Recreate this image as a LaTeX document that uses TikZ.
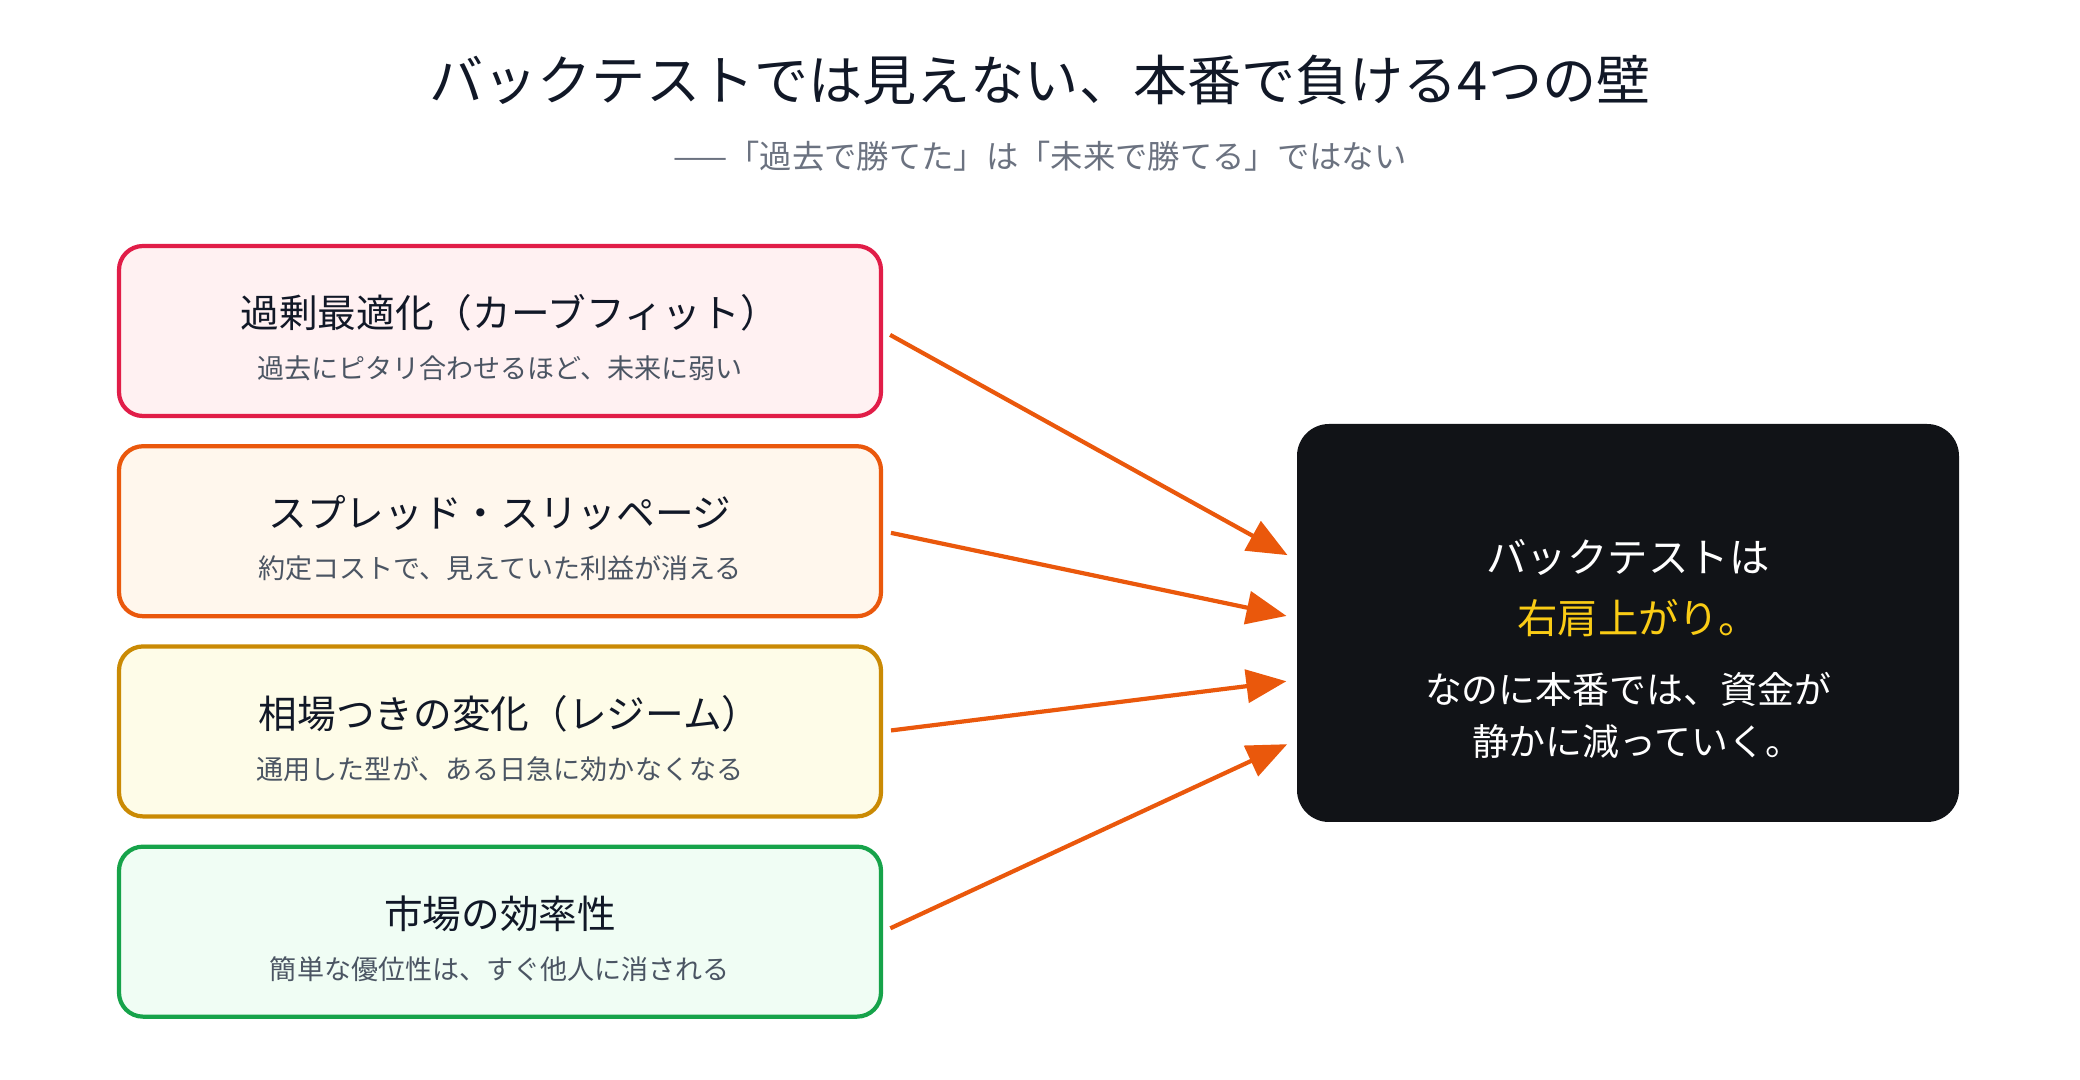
\documentclass[tikz,border=0pt]{standalone}
\usepackage{fontspec}
\setmainfont{Noto Sans CJK JP}
\usetikzlibrary{arrows.meta,positioning}

\definecolor{ink}{HTML}{111827}
\definecolor{subgray}{HTML}{4B5563}
\definecolor{leadgray}{HTML}{6B7280}
\definecolor{roseline}{HTML}{E11D48}
\definecolor{rosefill}{HTML}{FFF1F2}
\definecolor{orangeline}{HTML}{EA580C}
\definecolor{orangefill}{HTML}{FFF7ED}
\definecolor{amberline}{HTML}{CA8A04}
\definecolor{amberfill}{HTML}{FEFCE8}
\definecolor{greenline}{HTML}{16A34A}
\definecolor{greenfill}{HTML}{F0FDF4}
\definecolor{night}{HTML}{111317}
\definecolor{gold}{HTML}{FACC15}

\newcommand{\hd}{\fontsize{11}{13}\selectfont\color{ink}}
\newcommand{\sub}{\color{subgray}}

\begin{document}
\begin{tikzpicture}[
    node distance=0.26cm,
    every node/.style={font=\fontsize{7.7}{14.5}\selectfont, text=ink},
    wall/.style={draw, line width=1.2pt, rounded corners=0.24cm, align=center, minimum width=7.62cm, minimum height=1.70cm, inner sep=0pt, text height=27.8pt},
    result/.style={fill=night, rounded corners=0.32cm, minimum width=6.62cm, minimum height=3.98cm},
    flow/.style={-{Triangle[length=4mm, width=3.3mm]}, line width=1.2pt, draw=orangeline, fill=orangeline, shorten <=0.08cm, shorten >=0.1cm}
]
\useasboundingbox (0,0) rectangle (20.8,-10.8);

\node[font=\fontsize{15.4}{18}\selectfont] (title) at (10.4,-0.80) {バックテストでは見えない、本番で負ける4つの壁};
\node[font=\fontsize{9.2}{11}\selectfont, text=leadgray] (lead) at (10.4,-1.56) {——「過去で勝てた」は「未来で勝てる」ではない};

\node[wall, draw=roseline, fill=rosefill] (overfit) at (5.0,-3.31) {{\hd 過剰最適化（カーブフィット）\kern-0.5em}\\{\sub 過去にピタリ合わせるほど、未来に弱い}};
\node[wall, draw=orangeline, fill=orangefill, below=of overfit] (spread) {{\hd スプレッド・スリッページ}\\{\sub 約定コストで、見えていた利益が消える}};
\node[wall, draw=amberline, fill=amberfill, below=of spread] (regime) {{\hd 相場つきの変化（レジーム）\kern-0.5em}\\{\sub 通用した型が、ある日急に効かなくなる}};
\node[wall, draw=greenline, fill=greenfill, below=of regime] (market) {{\hd 市場の効率性}\\{\sub 簡単な優位性は、すぐ他人に消される}};

\node[result] (live) at (16.28,-6.23) {};
\node[align=center, text=white, font=\fontsize{10.5}{14.8}\selectfont] (livetext) at ([yshift=-0.26cm]live.center)
    {{\fontsize{11.5}{14}\selectfont バックテストは}\\[2.8pt]{\fontsize{11.5}{14}\selectfont\color{gold} 右肩上がり。\kern-0.5em}\\[5.1pt]なのに本番では、資金が\\静かに減っていく。\kern-0.5em};

\draw[flow] (overfit.east) -- ([yshift=0.63cm]live.west);
\draw[flow] (spread.east) -- ([yshift=0.05cm]live.west);
\draw[flow] (regime.east) -- ([yshift=-0.57cm]live.west);
\draw[flow] (market.east) -- ([yshift=-1.17cm]live.west);
\end{tikzpicture}
\end{document}
